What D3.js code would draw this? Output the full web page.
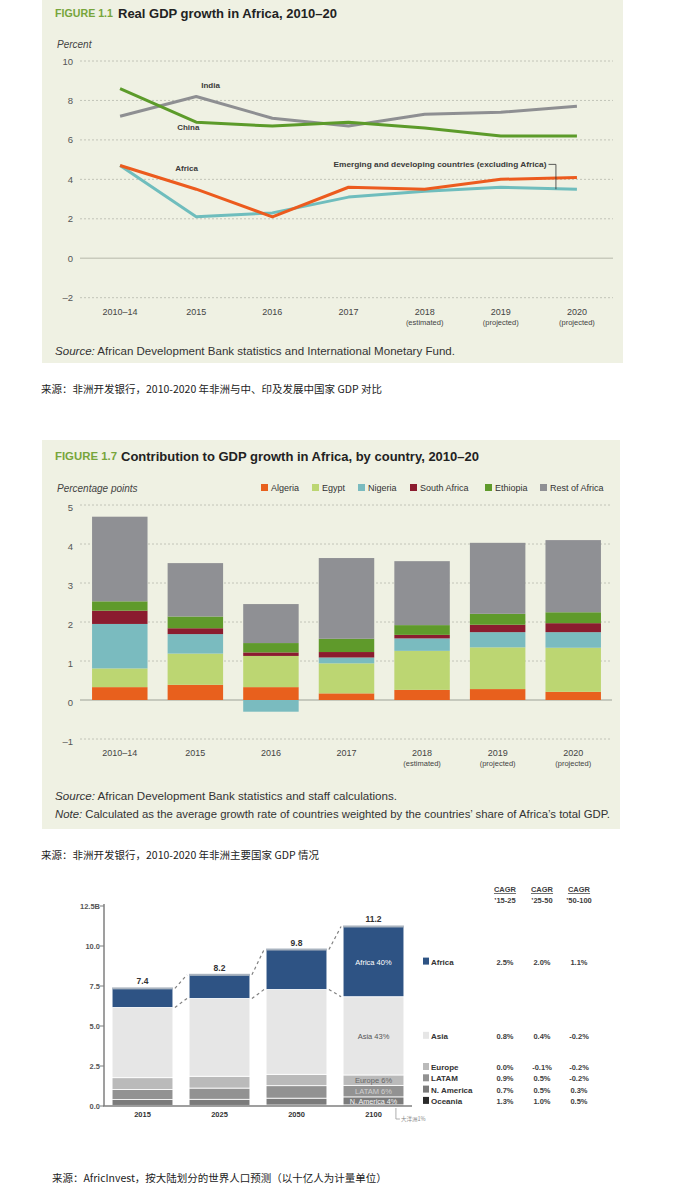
<!DOCTYPE html>
<html><head><meta charset="utf-8">
<script src="https://cdn.jsdelivr.net/npm/d3@7/dist/d3.min.js"></script>
<style>body{margin:0;background:#fff}svg{display:block}</style>
</head><body><svg id="c" width="677" height="1186"></svg>
<script>
// ---------- DATA ----------
const periods = ["2010–14","2015","2016","2017","2018","2019","2020"];
const periodSub = ["","","","","(estimated)","(projected)","(projected)"];
const indiaGrowth    = [7.2, 8.2, 7.1, 6.7, 7.3, 7.4, 7.7];
const chinaGrowth    = [8.6, 6.9, 6.7, 6.9, 6.6, 6.2, 6.2];
const africaGrowth   = [4.7, 3.5, 2.1, 3.6, 3.5, 4.0, 4.1];
const emergingGrowth = [4.7, 2.1, 2.3, 3.1, 3.4, 3.6, 3.5];
const growthTicks = [-2, 0, 2, 4, 6, 8, 10];

const contribCountries = ["Algeria","Egypt","Nigeria","South Africa","Ethiopia","Rest of Africa"];
const algeria      = [0.33, 0.39, 0.33, 0.17, 0.26, 0.28, 0.21];
const egypt        = [0.48, 0.80, 0.80, 0.77, 1.00, 1.07, 1.13];
const nigeria      = [1.14, 0.50, -0.30, 0.15, 0.32, 0.39, 0.40];
const southAfrica  = [0.34, 0.15, 0.09, 0.14, 0.09, 0.19, 0.23];
const ethiopia     = [0.24, 0.30, 0.24, 0.34, 0.25, 0.28, 0.28];
const restOfAfrica = [2.17, 1.37, 1.00, 2.07, 1.64, 1.82, 1.85];
const contribTicks = [-1, 0, 1, 2, 3, 4, 5];

const popYears = ["2015","2025","2050","2100"];
const popRegions = ["Oceania","N. America","LATAM","Europe","Asia","Africa"];
const popOceania  = [0.04, 0.04, 0.06, 0.07];
const popNAmerica = [0.36, 0.38, 0.43, 0.50];
const popLatam    = [0.63, 0.70, 0.78, 0.72];
const popEurope   = [0.74, 0.74, 0.71, 0.65];
const popAsia     = [4.39, 4.86, 5.30, 4.89];
const popAfrica   = [1.19, 1.48, 2.50, 4.39];
const popTotals   = ["7.4","8.2","9.8","11.2"];
const popTicks = [0, 2.5, 5, 7.5, 10, 12.5];
const popTickLabels = ["0.0","2.5","5.0","7.5","10.0","12.5B"];
const share2100 = {Africa:"Africa 40%", Asia:"Asia 43%", Europe:"Europe 6%", LATAM:"LATAM 6%", "N. America":"N. America 4%"};
const legendRegions = ["Africa","Asia","Europe","LATAM","N. America","Oceania"];
const cagrHeads = ["’15-25","’25-50","’50-100"];
const cagr15_25  = ["2.5%","0.8%","0.0%","0.9%","0.7%","1.3%"];
const cagr25_50  = ["2.0%","0.4%","-0.1%","0.5%","0.5%","1.0%"];
const cagr50_100 = ["1.1%","-0.2%","-0.2%","-0.2%","0.3%","0.5%"];

// ---------- HELPERS ----------
const SANS = "'Liberation Sans', Arial, Helvetica, sans-serif";
const CJK = "'Noto Sans CJK SC', sans-serif";
const svg = d3.select("#c");
svg.append("rect").attr("width",677).attr("height",1186).attr("fill","#fff");
function txt(g, x, y, s, o = {}) {
  const t = g.append("text").attr("x", x).attr("y", y).text(s)
    .attr("font-family", o.ff || SANS).attr("font-size", o.fs || 10)
    .attr("fill", o.fill || "#333");
  if (o.fw) t.attr("font-weight", o.fw);
  if (o.anchor) t.attr("text-anchor", o.anchor);
  if (o.style) t.attr("font-style", o.style);
  if (o.len) t.attr("textLength", o.len).attr("lengthAdjust", "spacingAndGlyphs");
  if (o.td) t.attr("text-decoration", o.td);
  return t;
}
const PANEL = "#eff1e3";
const GREEN_T = "#77a53b";

// ---------- FIGURE 1.1 ----------
{
  const g = svg.append("g");
  g.append("rect").attr("x", 42).attr("y", 0).attr("width", 581).attr("height", 363).attr("fill", PANEL);
  txt(g, 55, 17, "FIGURE 1.1", {fs: 11, fw: "bold", fill: GREEN_T, len: 58});
  txt(g, 118, 18, "Real GDP growth in Africa, 2010–20", {fs: 13, fw: "bold", fill: "#222"});
  txt(g, 57, 48, "Percent", {fs: 10, style: "italic", fill: "#444"});

  const x = d3.scaleBand().domain(periods).range([82, 615]);
  const cx = d => x(d) + x.bandwidth() / 2;
  const y = d3.scaleLinear().domain([-2, 10]).range([297.7, 61]);

  const grid = g.append("g");
  growthTicks.forEach(t => {
    grid.append("line").attr("x1", 80).attr("x2", 613).attr("y1", y(t)).attr("y2", y(t))
      .attr("stroke", t === 0 ? "#c9cbbd" : "#c2c4b8").attr("stroke-width", t === 0 ? 1.3 : 1)
      .attr("stroke-dasharray", t === 0 ? null : "2,2");
    txt(grid, 73, y(t) + 3.5, t < 0 ? "–" + Math.abs(t) : String(t), {fs: 9.5, anchor: "end", fill: "#555"});
  });
  periods.forEach((p, i) => {
    txt(g, cx(p), 315, p, {fs: 9, anchor: "middle", fill: "#444"});
    if (periodSub[i]) txt(g, cx(p), 325, periodSub[i], {fs: 7.5, anchor: "middle", fill: "#444"});
  });

  const line = d3.line().x((d, i) => cx(periods[i])).y(d => y(d));
  const series = [
    [indiaGrowth, "#8e8f92"], [chinaGrowth, "#5c9b2a"],
    [emergingGrowth, "#6fbdbd"], [africaGrowth, "#ec5b1e"]
  ];
  series.forEach(([d, c]) => g.append("path").attr("d", line(d)).attr("fill", "none")
    .attr("stroke", c).attr("stroke-width", 3).attr("stroke-linejoin", "round"));

  const lab = {fs: 8, fw: "bold", fill: "#3a3a3a"};
  txt(g, cx("2015") + 5, y(indiaGrowth[1]) - 9, "India", lab);
  txt(g, cx("2015") - 19, y(chinaGrowth[1]) + 8, "China", lab);
  txt(g, cx("2015") - 21, y(africaGrowth[0]) + 5, "Africa", lab);
  const ex = cx("2017") - 15, ey = y(africaGrowth[6]) - 10;
  txt(g, ex, ey, "Emerging and developing countries (excluding Africa)", Object.assign({len: 213}, lab));
  const bx = cx("2020") - 21;
  g.append("path").attr("d", `M${ex + 215},${ey - 3}H${bx}V${y(emergingGrowth[6])}`)
    .attr("fill", "none").attr("stroke", "#333").attr("stroke-width", 0.8);

  const s = g.append("text").attr("x", 55).attr("y", 355).attr("font-family", SANS)
    .attr("font-size", 10.5).attr("fill", "#333").attr("textLength", 400).attr("lengthAdjust", "spacingAndGlyphs");
  s.append("tspan").attr("font-style", "italic").text("Source:");
  s.append("tspan").text(" African Development Bank statistics and International Monetary Fund.");

  txt(svg, 41, 393, "来源：非洲开发银行，2010-2020 年非洲与中、印及发展中国家 GDP 对比", {ff: CJK, fs: 10.5, fill: "#222"});
}

// ---------- FIGURE 1.7 ----------
{
  const g = svg.append("g");
  g.append("rect").attr("x", 42).attr("y", 440).attr("width", 578).attr("height", 389).attr("fill", PANEL);
  txt(g, 55, 460, "FIGURE 1.7", {fs: 11, fw: "bold", fill: GREEN_T, len: 62});
  txt(g, 121, 461, "Contribution to GDP growth in Africa, by country, 2010–20", {fs: 13, fw: "bold", fill: "#222", len: 358});
  txt(g, 57, 492, "Percentage points", {fs: 10, style: "italic", fill: "#444"});

  const colors = {"Algeria": "#e8601d", "Egypt": "#bcd672", "Nigeria": "#7abbbf",
    "South Africa": "#8b1c2f", "Ethiopia": "#5f9a2b", "Rest of Africa": "#8f9094"};
  // legend
  const legX = [261, 312, 358, 410, 485, 540];
  contribCountries.forEach((c, i) => {
    g.append("rect").attr("x", legX[i]).attr("y", 484).attr("width", 7).attr("height", 7).attr("fill", colors[c]);
    txt(g, legX[i] + 10, 491, c, {fs: 9, fill: "#333"});
  });

  const x = d3.scaleBand().domain(periods).range([82, 611]).paddingInner(0.266).paddingOuter(0.133);
  const y = d3.scaleLinear().domain([-1, 5]).range([739, 505]);

  contribTicks.forEach(t => {
    g.append("line").attr("x1", 80).attr("x2", 612).attr("y1", y(t)).attr("y2", y(t))
      .attr("stroke", t === 0 ? "#b9bbb0" : "#c2c4b8").attr("stroke-width", t === 0 ? 1.3 : 1)
      .attr("stroke-dasharray", t === 0 ? null : "2,2");
    txt(g, 73, y(t) + 6, t < 0 ? "–" + Math.abs(t) : String(t), {fs: 9.5, anchor: "end", fill: "#555"});
  });

  const table = periods.map((p, i) => ({period: p, "Algeria": algeria[i], "Egypt": egypt[i], "Nigeria": nigeria[i],
    "South Africa": southAfrica[i], "Ethiopia": ethiopia[i], "Rest of Africa": restOfAfrica[i]}));
  const stack = d3.stack().keys(contribCountries).offset(d3.stackOffsetDiverging)(table);
  stack.forEach(layer => {
    g.append("g").attr("fill", colors[layer.key]).selectAll("rect").data(layer).join("rect")
      .attr("x", d => x(d.data.period)).attr("width", x.bandwidth())
      .attr("y", d => y(Math.max(d[0], d[1]))).attr("height", d => Math.abs(y(d[0]) - y(d[1])));
  });

  periods.forEach((p, i) => {
    const c = x(p) + x.bandwidth() / 2;
    txt(g, c, 756, p, {fs: 9, anchor: "middle", fill: "#444"});
    if (periodSub[i]) txt(g, c, 766, periodSub[i], {fs: 7.5, anchor: "middle", fill: "#444"});
  });

  const s = g.append("text").attr("x", 55).attr("y", 800).attr("font-family", SANS)
    .attr("font-size", 10.5).attr("fill", "#333").attr("textLength", 342).attr("lengthAdjust", "spacingAndGlyphs");
  s.append("tspan").attr("font-style", "italic").text("Source:");
  s.append("tspan").text(" African Development Bank statistics and staff calculations.");
  const n = g.append("text").attr("x", 55).attr("y", 818).attr("font-family", SANS)
    .attr("font-size", 10.5).attr("fill", "#333").attr("textLength", 555).attr("lengthAdjust", "spacingAndGlyphs");
  n.append("tspan").attr("font-style", "italic").text("Note:");
  n.append("tspan").text(" Calculated as the average growth rate of countries weighted by the countries’ share of Africa’s total GDP.");

  txt(svg, 41, 859, "来源：非洲开发银行，2010-2020 年非洲主要国家 GDP 情况", {ff: CJK, fs: 10.5, fill: "#222"});
}

// ---------- POPULATION CHART ----------
{
  const g = svg.append("g");
  const x = d3.scaleBand().domain(popYears).range([104, 412]).paddingInner(0.21).paddingOuter(0.105);
  const y = d3.scaleLinear().domain([0, 12.5]).range([1106, 906]);
  const colors = {"Oceania": "#4a4a4a", "N. America": "#7b7b7b", "LATAM": "#929292",
    "Europe": "#bababa", "Asia": "#e6e6e6", "Africa": "#2e5384"};
  const legendColors = Object.assign({}, colors, {"Oceania": "#2b2b2b"});
  const table = popYears.map((yr, i) => ({year: yr, "Oceania": popOceania[i], "N. America": popNAmerica[i],
    "LATAM": popLatam[i], "Europe": popEurope[i], "Asia": popAsia[i], "Africa": popAfrica[i]}));
  const stack = d3.stack().keys(popRegions)(table);

  // connectors
  const afr = stack[stack.length - 1];
  for (let i = 0; i < popYears.length - 1; i++) {
    const x1 = x(popYears[i]) + x.bandwidth() + 2, x2 = x(popYears[i + 1]) - 2;
    [[afr[i][1], afr[i + 1][1]], [afr[i][0], afr[i + 1][0]]].forEach(([a, b]) => {
      g.append("line").attr("x1", x1).attr("x2", x2).attr("y1", y(a)).attr("y2", y(b))
        .attr("stroke", "#808080").attr("stroke-width", 1.2).attr("stroke-dasharray", "3,3");
    });
  }

  stack.forEach(layer => {
    g.append("g").selectAll("rect").data(layer).join("rect")
      .attr("x", d => x(d.data.year)).attr("width", x.bandwidth())
      .attr("y", d => y(d[1])).attr("height", d => y(d[0]) - y(d[1]))
      .attr("fill", colors[layer.key]).attr("stroke", "#fff").attr("stroke-width", 0.8);
  });
  // bar outline top cap
  afr.forEach(d => {
    g.append("rect").attr("x", x(d.data.year)).attr("y", y(d[1]) - 1).attr("width", x.bandwidth())
      .attr("height", 2).attr("fill", "#a9b3bf");
  });

  // axes
  g.append("line").attr("x1", 104).attr("x2", 104).attr("y1", 904).attr("y2", 1106).attr("stroke", "#7f7f7f").attr("stroke-width", 1.5);
  g.append("line").attr("x1", 103).attr("x2", 412).attr("y1", 1106).attr("y2", 1106).attr("stroke", "#7f7f7f").attr("stroke-width", 1.5);
  popTicks.forEach((t, i) => {
    g.append("line").attr("x1", 100).attr("x2", 104).attr("y1", y(t)).attr("y2", y(t)).attr("stroke", "#7f7f7f");
    txt(g, 100, y(t) + 3, popTickLabels[i], {fs: 7.5, fw: "bold", anchor: "end", fill: "#555"});
  });
  popYears.forEach((yr, i) => {
    const c = x(yr) + x.bandwidth() / 2;
    txt(g, c, 1117, yr, {fs: 7.5, fw: "bold", anchor: "middle", fill: "#333"});
    txt(g, c, y(afr[i][1]) - 4, popTotals[i], {fs: 8.5, fw: "bold", anchor: "middle", fill: "#333"});
  });

  // labels inside 2100 bar
  const last = popYears.length - 1, c2100 = x(popYears[last]) + x.bandwidth() / 2;
  const segLabColor = {"Africa": "#fff", "Asia": "#555", "Europe": "#666", "LATAM": "#d0d0d0", "N. America": "#f2f2f2"};
  stack.forEach(layer => {
    if (!share2100[layer.key]) return;
    const d = layer[last];
    txt(g, c2100, (y(d[0]) + y(d[1])) / 2 + 3, share2100[layer.key],
      {fs: layer.key === "N. America" ? 7.2 : 7.5, anchor: "middle", fill: segLabColor[layer.key]});
  });
  const bxr = x(popYears[last]) + x.bandwidth() - 8;
  g.append("path").attr("d", `M${bxr},1108V1119H${bxr + 4}`).attr("fill", "none").attr("stroke", "#999").attr("stroke-width", 0.8);
  txt(g, bxr + 5, 1121, "大洋洲1%", {ff: CJK, fs: 5.5, fill: "#888"});

  // legend & CAGR table
  const afr2100 = afr[last], asia2100 = stack[4][last];
  const rowY = [ (y(afr2100[0]) + y(afr2100[1])) / 2, (y(asia2100[0]) + y(asia2100[1])) / 2, 1067, 1078.3, 1089.6, 1100.9 ];
  const colX = [505, 542, 579];
  cagrHeads.forEach((h, i) => {
    txt(g, colX[i], 892, "CAGR", {fs: 7.5, fw: "bold", anchor: "middle", fill: "#404040", td: "underline"});
    txt(g, colX[i], 903, h, {fs: 7.5, fw: "bold", anchor: "middle", fill: "#404040"});
  });
  legendRegions.forEach((r, i) => {
    const yy = rowY[i];
    g.append("rect").attr("x", 423).attr("y", yy - 4).attr("width", 6).attr("height", 7).attr("fill", legendColors[r]);
    txt(g, 431, yy + 3, r, {fs: 8, fw: "bold", fill: "#333"});
    [cagr15_25, cagr25_50, cagr50_100].forEach((col, j) => {
      txt(g, colX[j], yy + 3, col[i], {fs: 7.5, fw: "bold", anchor: "middle", fill: "#404040"});
    });
  });

  txt(svg, 52, 1182, "来源：AfricInvest，按大陆划分的世界人口预测（以十亿人为计量单位）", {ff: CJK, fs: 10.5, fill: "#222"});
}
</script></body></html>
